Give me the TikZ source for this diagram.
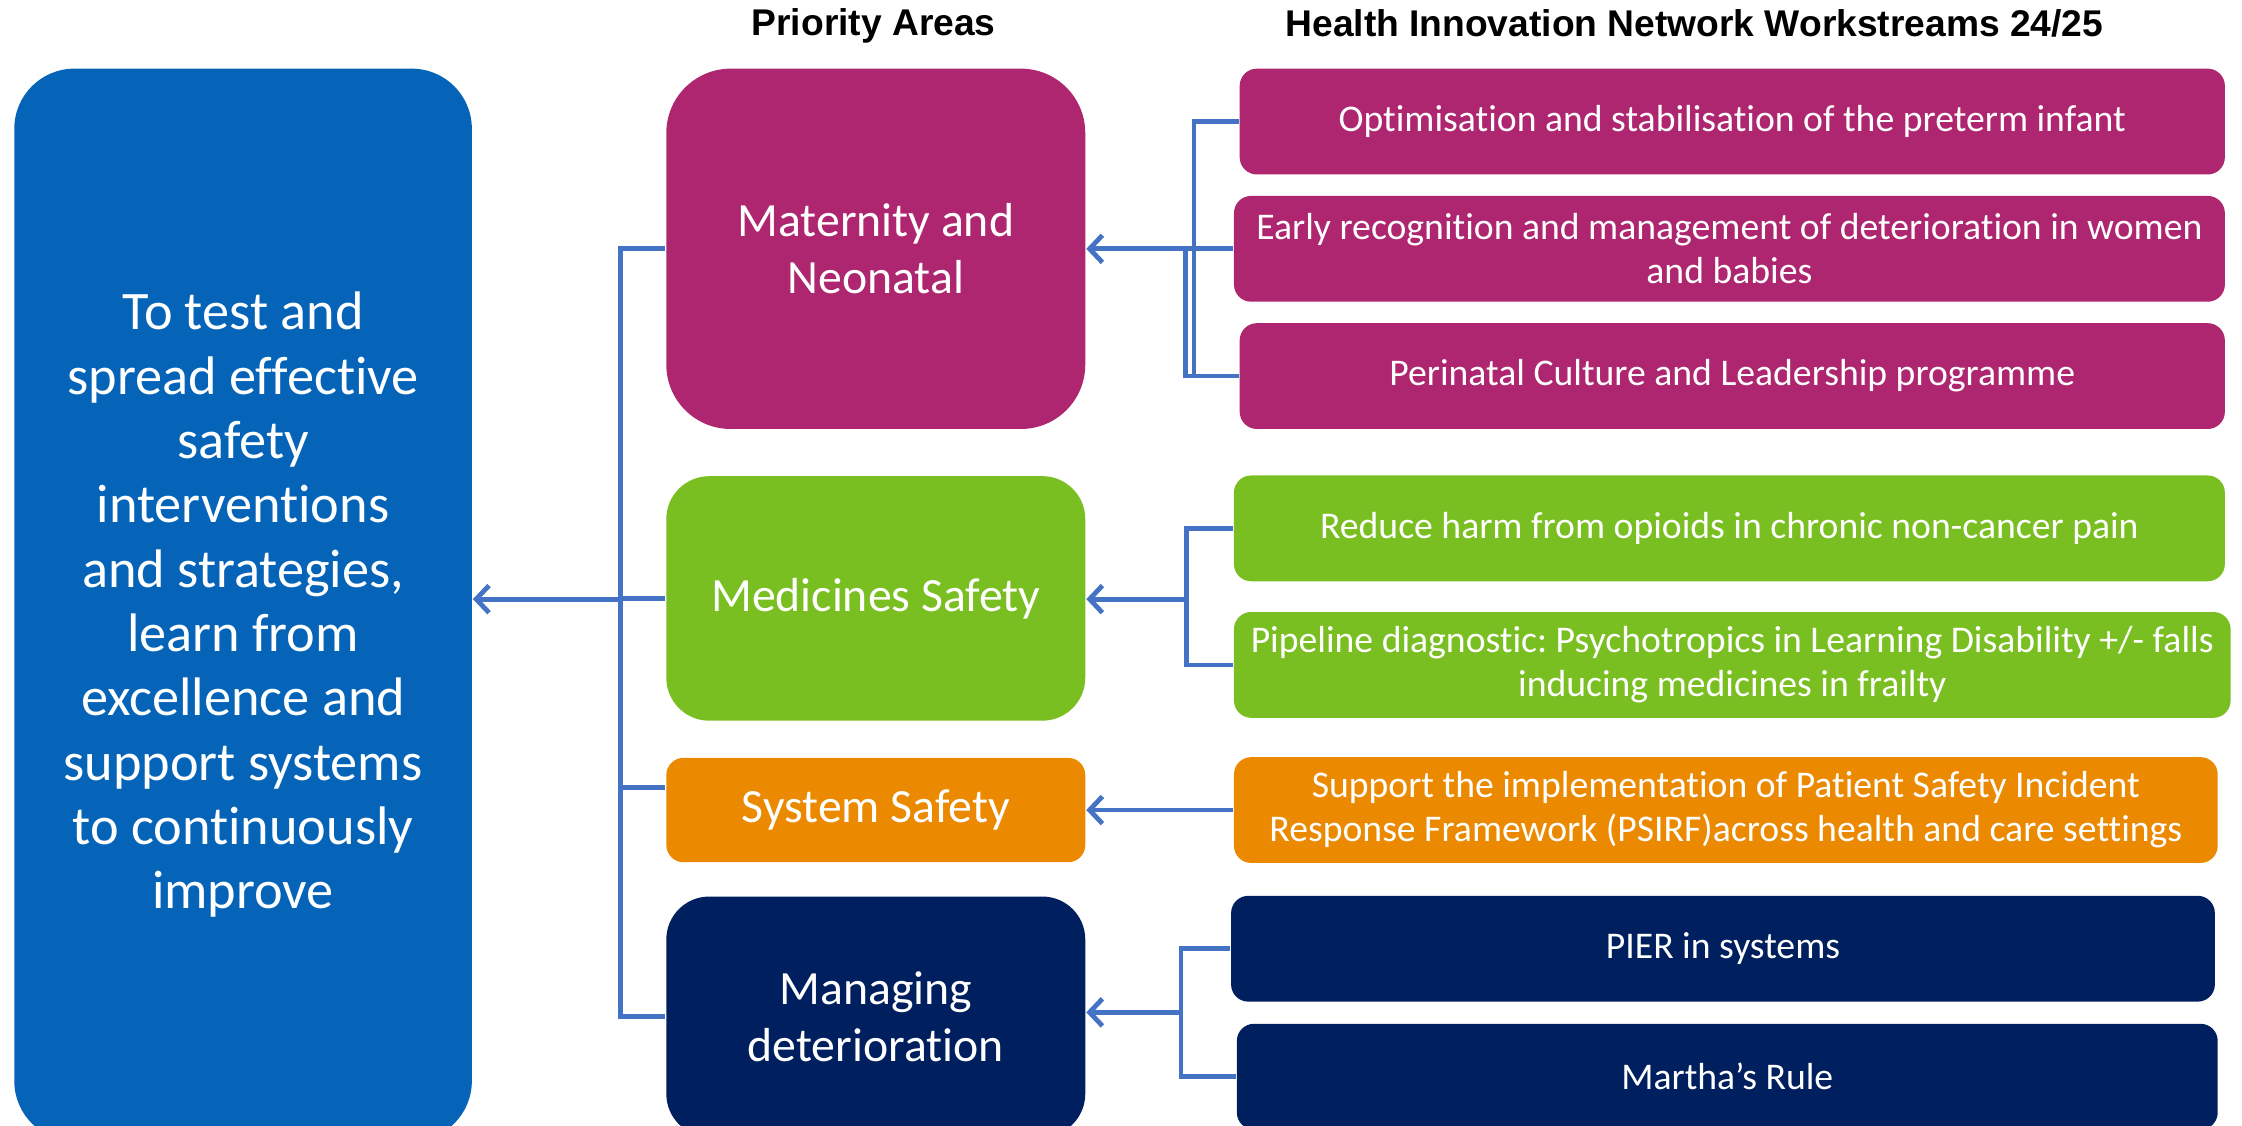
\documentclass[tikz,border=0pt]{standalone}
\usepackage{fontspec}
\setmainfont[Ligatures=NoCommon]{Carlito}
\newfontfamily\headfont{Liberation Sans}
\usetikzlibrary{arrows.meta}
\frenchspacing

\definecolor{goalblue}{RGB}{5,100,184}
\definecolor{matpink}{RGB}{174,37,112}
\definecolor{medgreen}{RGB}{122,191,33}
\definecolor{sysorange}{RGB}{235,138,0}
\definecolor{detnavy}{RGB}{0,31,94}
\definecolor{linkblue}{RGB}{68,114,196}

\begin{document}
\begin{tikzpicture}[
    goal/.style={fill=goalblue, text=white, rounded corners=0.42cm, inner sep=0pt,
      minimum width=3.2cm, minimum height=7.5cm, align=center,
      font=\fontsize{10.8}{12.8}\selectfont},
    area/.style={fill=#1, text=white, inner sep=0pt, minimum width=2.93cm,
      align=center, font=\fontsize{9.5}{11.4}\selectfont},
    stream/.style={fill=#1, text=white, rounded corners=0.12cm, inner sep=0pt,
      minimum height=0.74cm, align=center, font=\fontsize{7.5}{8.8}\selectfont},
    heading/.style={font=\headfont\bfseries\fontsize{7.4}{8.8}\selectfont},
    link/.style={draw=linkblue, line width=0.95pt},
    arrow/.style={link, -{Straight Barb[length=0.9mm,width=1.9mm]}}
  ]
  \useasboundingbox (0,0) rectangle (15.68,-7.87);

  % headings
  \node[heading] (hpa) at (6.11,-0.18) {Priority Areas};
  \node[heading] (hwork) at (11.85,-0.16) {Health Innovation Network Workstreams 24/25};

  % goal
  \node[goal] (goal) at (1.70,-4.23) {To test and\\spread effective\\safety\\interventions\\and strategies,\\learn from\\excellence and\\support systems\\to continuously\\improve};

  % priority areas
  \node[area=matpink, minimum height=2.52cm, rounded corners=0.45cm] (mat) at (6.125,-1.74) {Maternity and\\Neonatal};
  \node[area=medgreen, minimum height=1.71cm, rounded corners=0.3cm] (med) at (6.125,-4.185) {Medicines Safety};
  \node[area=sysorange, minimum height=0.73cm, rounded corners=0.12cm] (sys) at (6.125,-5.665) {System Safety};
  \node[area=detnavy, minimum height=1.68cm, rounded corners=0.3cm] (det) at (6.125,-7.11) {Managing\\deterioration};

  % workstreams
  \node[stream=matpink, minimum width=6.89cm] (opt) at (12.115,-0.85) {Optimisation and stabilisation of the preterm infant};
  \node[stream=matpink, minimum width=6.93cm] (early) at (12.095,-1.74) {Early recognition and management of deterioration in women\\and babies};
  \node[stream=matpink, minimum width=6.89cm] (peri) at (12.115,-2.63) {Perinatal Culture and Leadership programme};
  \node[stream=medgreen, minimum width=6.93cm] (opioid) at (12.095,-3.695) {Reduce harm from opioids in chronic non-cancer pain};
  \node[stream=medgreen, minimum width=6.97cm] (psych) at (12.115,-4.65) {Pipeline diagnostic: Psychotropics in Learning Disability +/- falls\\inducing medicines in frailty};
  \node[stream=sysorange, minimum width=6.88cm] (psirf) at (12.07,-5.665) {Support the implementation of Patient Safety Incident\\Response Framework (PSIRF)across health and care settings};
  \node[stream=detnavy, minimum width=6.88cm] (pier) at (12.05,-6.635) {PIER in systems};
  \node[stream=detnavy, minimum width=6.86cm] (martha) at (12.08,-7.53) {Martha’s Rule};

  % joints
  \coordinate (trunk) at (4.34,-4.19);
  \coordinate (matj) at (8.35,-1.74);
  \coordinate (medj) at (8.30,-4.19);
  \coordinate (detj) at (8.26,-7.08);

  % areas to goal
  \draw[link] (mat.west) -- (mat.west -| trunk) -- (det.west -| trunk) -- (det.west);
  \draw[link] (med.west) -- (med.west -| trunk);
  \draw[link] ([yshift=0.16cm]sys.west) -- ([yshift=0.16cm]sys.west -| trunk);
  \draw[arrow] (trunk) -- (trunk -| goal.east);

  % workstreams to areas
  \draw[link] (opt.west) -| (matj) |- (peri.west);
  \draw[link] ([xshift=-0.06cm]matj) |- (peri.west);
  \draw[arrow] (early.west) -- (mat.east);

  \draw[link] (opioid.west) -| (medj) |- (psych.west);
  \draw[arrow] (medj) -- (medj -| med.east);

  \draw[arrow] (psirf.west) -- (sys.east);

  \draw[link] (pier.west) -| (detj) |- (martha.west);
  \draw[arrow] (detj) -- (detj -| det.east);
\end{tikzpicture}
\end{document}
